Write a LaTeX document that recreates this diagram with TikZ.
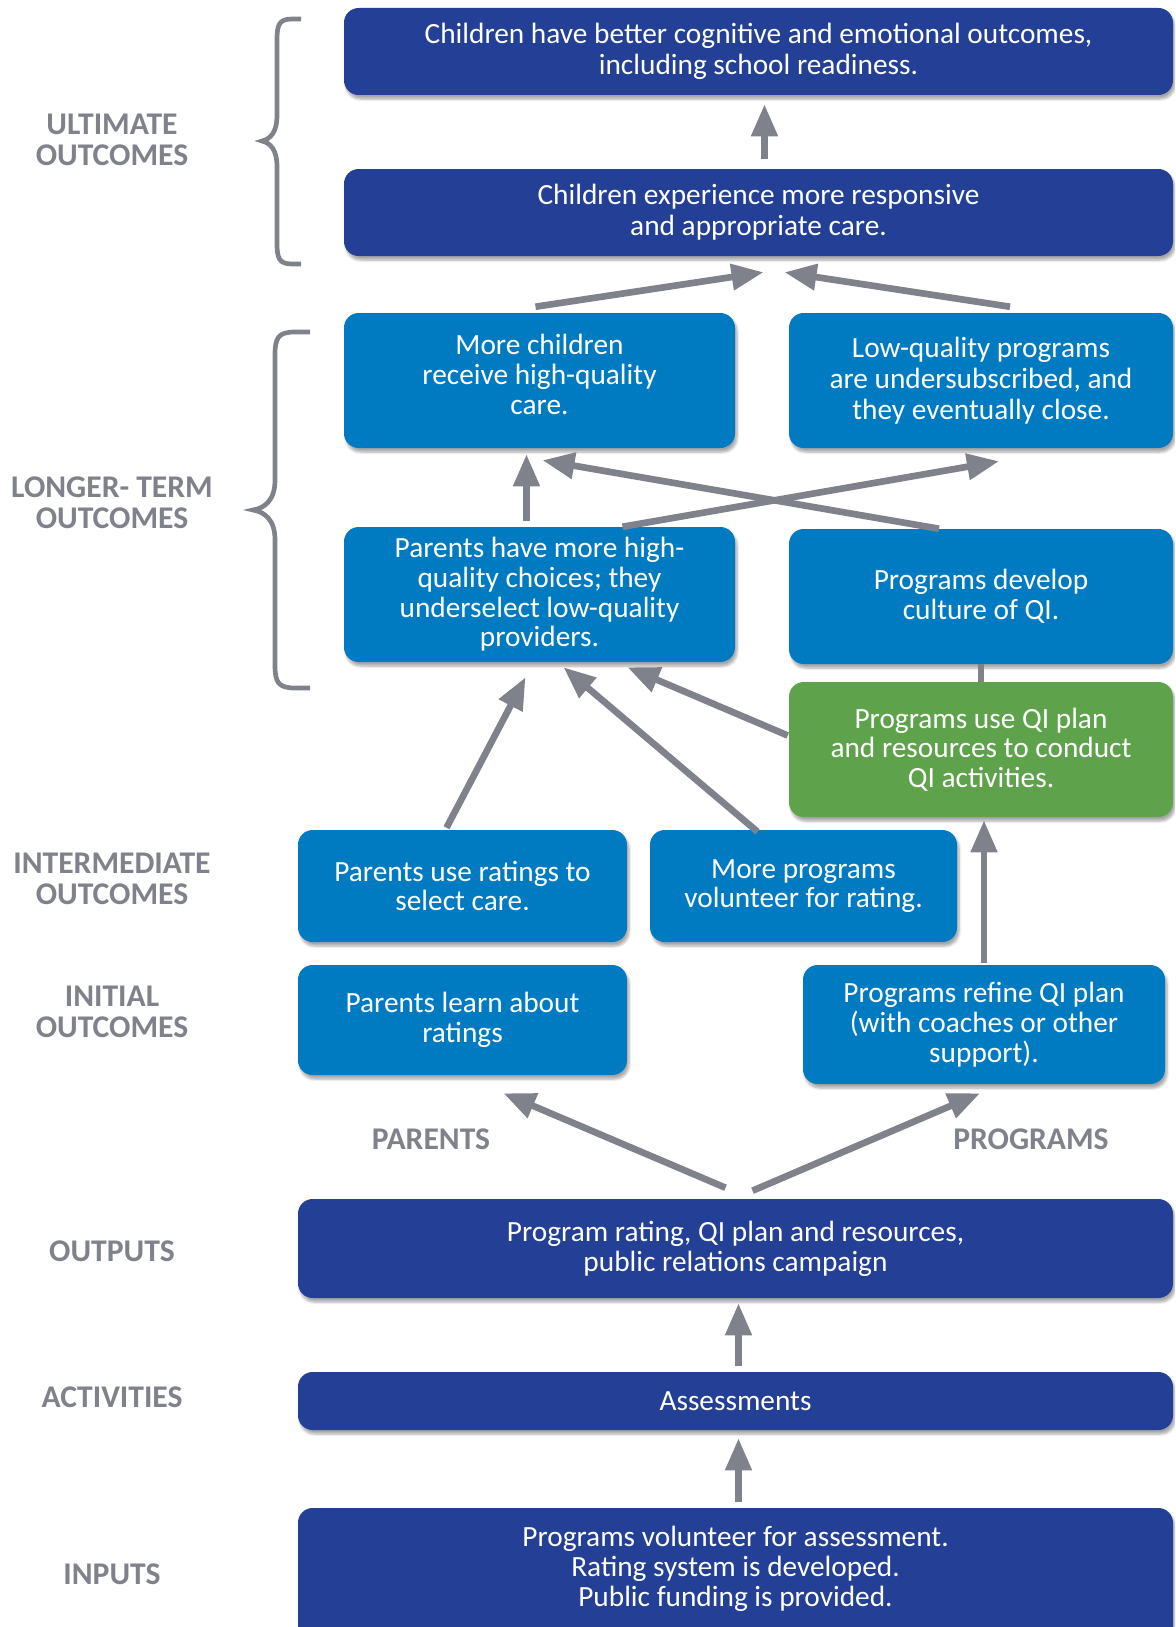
\documentclass[tikz,border=0pt]{standalone}
\usepackage{fontspec}
\setmainfont{Carlito}
\usetikzlibrary{arrows.meta,calc,shadows.blur}

\definecolor{dkblue}{RGB}{35,63,150}
\definecolor{mdblue}{RGB}{0,123,194}
\definecolor{qigreen}{RGB}{95,162,76}
\definecolor{agray}{RGB}{128,130,139}

\begin{document}
\begin{tikzpicture}[x=0.75pt, y=-0.75pt,
    box/.style={rounded corners=11pt, inner sep=0pt, align=center, text=white,
      font=\fontsize{22}{22.3}\selectfont,
      blur shadow={shadow blur steps=6, shadow xshift=1.5pt, shadow yshift=-3pt, shadow opacity=35}},
    dkbox/.style={box, fill=dkblue},
    mdbox/.style={box, fill=mdblue},
    gnbox/.style={box, fill=qigreen},
    lvl/.style={align=center, text=agray, font=\bfseries\fontsize{23.7}{23}\selectfont},
    arr/.style={draw=agray, line width=5pt, -{Triangle[length=24pt,width=19pt]}},
    brc/.style={draw=agray, line width=3.5pt}]
    \path[use as bounding box] (0,0) rectangle (1175,1627);
    \clip (0,0) rectangle (1175,1627);
    % ultimate outcomes
    \node[dkbox, minimum width=621.75pt, minimum height=65.25pt] (u1) at (758.5,51.5)
      {Children have better cognitive and emotional outcomes,\\[1pt]including school readiness.};
    \node[dkbox, minimum width=621.75pt, minimum height=65.25pt] (u2) at (758.5,212.5)
      {Children experience more responsive\\[1pt]and appropriate care.};
    % longer-term outcomes
    \node[mdbox, minimum width=293.25pt, minimum height=101.25pt] (l1) at (539.5,380.5)
      {More children\\receive high-quality\\care.\rule[-9pt]{0pt}{0pt}};
    \node[mdbox, minimum width=288pt, minimum height=101.25pt] (l2) at (981,380.5)
      {Low-quality programs\\[1pt]are undersubscribed, and\\[1pt]they eventually close.};
    \node[mdbox, minimum width=293.25pt, minimum height=101.25pt] (l3) at (539.5,594.5)
      {Parents have more high-\\quality choices; they\\underselect low-quality\\providers.};
    \node[mdbox, minimum width=288pt, minimum height=101.25pt] (l4) at (981,596.5)
      {Programs develop\\culture of QI.};
    \node[gnbox, minimum width=288pt, minimum height=101.25pt] (g) at (981,749.5)
      {Programs use QI plan\\and resources to conduct\\QI activities.};
    % intermediate and initial outcomes
    \node[mdbox, minimum width=246.75pt, minimum height=84pt] (i1) at (462.5,886)
      {Parents use ratings to\\select care.};
    \node[mdbox, minimum width=230.25pt, minimum height=84pt] (i2) at (803.5,886)
      {More programs\\volunteer for rating.};
    \node[mdbox, minimum width=246.75pt, minimum height=82.5pt] (p1) at (462.5,1020)
      {Parents learn about\\ratings};
    \node[mdbox, minimum width=271.5pt, minimum height=89.25pt] (p2) at (984,1024.5)
      {Programs refine QI plan\\(with coaches or other\\support).};
    % outputs, activities, inputs
    \node[dkbox, minimum width=656.25pt, minimum height=74.25pt] (o) at (735.5,1248.5)
      {Program rating, QI plan and resources,\\public relations campaign};
    \node[dkbox, minimum width=656.25pt, minimum height=43.5pt] (a) at (735.5,1401)
      {Assessments};
    \node[dkbox, minimum width=656.25pt, minimum height=100.5pt] (in) at (735.5,1575)
      {Programs volunteer for assessment.\\Rating system is developed.\\Public funding is provided.\rule[-13pt]{0pt}{0pt}};

    % level labels
    \node[lvl] (ult) at (112,140)  {ULTIMATE\\OUTCOMES};
    \node[lvl] (lng) at (112,503)  {LONGER- TERM\\OUTCOMES};
    \node[lvl] (itm) at (112,879)  {INTERMEDIATE\\OUTCOMES};
    \node[lvl] (ini) at (112,1012) {INITIAL\\OUTCOMES};
    \node[lvl] (out) at (112,1251) {OUTPUTS};
    \node[lvl] (act) at (112,1397) {ACTIVITIES};
    \node[lvl] (inp) at (112,1574) {INPUTS};
    \node[lvl] (par) at (431,1139)  {PARENTS};
    \node[lvl] (prg) at (1031,1139) {PROGRAMS};

    % braces
    \draw[brc] (301,19) -- (292,19) .. controls (279,19) and (277,25) .. (277,40) -- (277,115)
      .. controls (277,133) and (270,139) .. (262,141) .. controls (270,143) and (277,149) .. (277,167)
      -- (277,243) .. controls (277,258) and (279,264) .. (292,264) -- (301,264);
    \draw[brc] (310,332) -- (295,332) .. controls (278,332) and (275,338) .. (275,355) -- (275,480)
      .. controls (275,500) and (265,508) .. (253,510) .. controls (265,512) and (275,520) .. (275,540)
      -- (275,665) .. controls (275,682) and (278,688) .. (295,688) -- (310,688);

    % arrows
    \draw[arr] ($(u2.north)+(6,-10)$) -- ($(u1.south)+(6,9)$);
    \draw[arr] ($(l1.north)+(-4,-6)$) -- ($(u2.south)+(5,16)$);
    \draw[arr] ($(l2.north)+(29,-6)$) -- ($(u2.south)+(26,16)$);
    \draw[arr] ($(l3.north)+(-13,-6)$) -- ($(l1.south)+(-13,6)$);
    \draw[arr] ($(l3.north)+(83,0)$) -- ($(l2.south)+(18,13)$);
    \draw[arr] ($(l4.north)+(-42,0)$) -- ($(l1.south)+(3,12)$);
    \draw[draw=agray, line width=5pt] (l4.south) -- (g.north);
    \draw[arr] ($(i1.north)+(-16,-2)$) -- ($(l3.south)+(-14,15)$);
    \draw[arr] ($(i2.north)+(-46,2)$) -- ($(l3.south)+(24,5)$);
    \draw[arr] ($(g.west)+(-1,-14)$) -- ($(l3.south)+(88,5)$);
    \draw[arr] ($(p2.north)+(0,-2)$) -- ($(g.south)+(3,3)$);
    \draw[arr] ($(o.north)+(-10,-11)$) -- ($(p1.south)+(41,18)$);
    \draw[arr] ($(o.north)+(17,-8)$) -- ($(p2.south)+(-4,9)$);
    \draw[arr] ($(a.north)+(3,-6)$) -- ($(o.south)+(3,5)$);
    \draw[arr] ($(in.north)+(3,-6)$) -- ($(a.south)+(3,8)$);
  \end{tikzpicture}
\end{document}
